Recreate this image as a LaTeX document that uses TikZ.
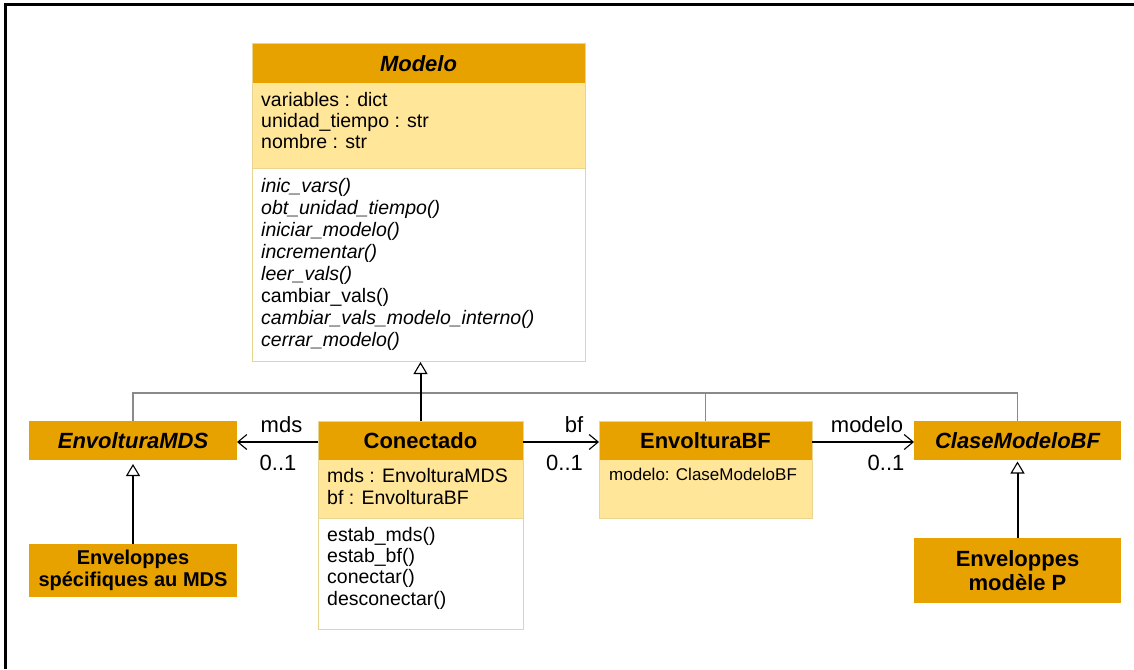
\documentclass[tikz,border=0pt]{standalone}
\usepackage{fontspec}
\setmainfont{Liberation Sans}
\usetikzlibrary{arrows.meta}
\definecolor{orng}{HTML}{E8A200}
\definecolor{lyel}{HTML}{FFE699}
\definecolor{tanb}{HTML}{EAD590}
\definecolor{grayl}{HTML}{8A8A8A}
\begin{document}
\begin{tikzpicture}[x=1pt,y=-1pt,
  part/.style={inner sep=0pt, outer sep=0pt, anchor=north west, draw=none},
  hdr/.style={part, fill=orng, font=\fontsize{22}{24}\selectfont\bfseries},
  attr/.style={part, fill=lyel},
  meth/.style={part, fill=white},
  frameb/.style={draw=tanb, line width=1pt},
  mem/.style={anchor=base west, inner sep=0pt, font=\fontsize{19.5}{22}\selectfont},
  memi/.style={mem, font=\fontsize{19.5}{22}\selectfont\itshape},
  lbl/.style={anchor=base, inner sep=0pt, font=\fontsize{22}{24}\selectfont},
  assoc/.style={draw=black, line width=1.1pt, -{Straight Barb[length=9pt,width=15pt,line width=1.1pt]}},
  inh/.style={draw=black, line width=2pt, -{Triangle[open,length=12pt,width=14pt,line width=1.1pt,fill=white]}},
  gen/.style={draw=grayl, line width=1.5pt}
]
\useasboundingbox (0,0) rectangle (1134,669);
\fill[white] (0,0) rectangle (1134,669);
\draw[line width=3pt] (5,669) -- (5,4.5) -- (1134,4.5);

% ---------- Modelo ----------
\node[hdr, minimum width=333pt, minimum height=39pt] (modH) at (252,44) {\itshape Modelo};
\node[attr, minimum width=333pt, minimum height=85pt] (modA) at (252,83) {};
\node[meth, minimum width=333pt, minimum height=193pt] (modM) at (252,168) {};
\draw[frameb] (modH.north west) rectangle (modM.south east);
\draw[frameb] (modA.south west) -- (modA.south east);
\node[mem] (ma1) at (261,106) {variables : dict};
\node[mem] (ma2) at (261,127) {unidad\_tiempo : str};
\node[mem] (ma3) at (261,148) {nombre : str};
\node[memi] (mm1) at (261,192) {inic\_vars()};
\node[memi] (mm2) at (261,214) {obt\_unidad\_tiempo()};
\node[memi] (mm3) at (261,236) {iniciar\_modelo()};
\node[memi] (mm4) at (261,258) {incrementar()};
\node[memi] (mm5) at (261,280) {leer\_vals()};
\node[mem]  (mm6) at (261,302) {cambiar\_vals()};
\node[memi] (mm7) at (261,324) {cambiar\_vals\_modelo\_interno()};
\node[memi] (mm8) at (261,346) {cerrar\_modelo()};

% ---------- EnvolturaMDS ----------
\node[hdr, minimum width=208pt, minimum height=39pt] (envmds) at (29,421) {\itshape EnvolturaMDS};

% ---------- Conectado ----------
\node[hdr, minimum width=205pt, minimum height=39pt] (conH) at (318,421) {Conectado};
\node[attr, minimum width=205pt, minimum height=58pt] (conA) at (318,460) {};
\node[meth, minimum width=205pt, minimum height=111pt] (conM) at (318,518) {};
\draw[frameb] (conH.north west) rectangle (conM.south east);
\draw[frameb] (conA.south west) -- (conA.south east);
\node[mem] (ca1) at (327,482.5) {mds : EnvolturaMDS};
\node[mem] (ca2) at (327,504) {bf : EnvolturaBF};
\node[mem] (cm1) at (327,541) {estab\_mds()};
\node[mem] (cm2) at (327,562) {estab\_bf()};
\node[mem] (cm3) at (327,583.5) {conectar()};
\node[mem] (cm4) at (327,605) {desconectar()};

% ---------- EnvolturaBF ----------
\node[hdr, minimum width=213pt, minimum height=39pt] (envbf) at (599,421) {EnvolturaBF};
\node[attr, minimum width=213pt, minimum height=58pt] (envbfA) at (599,460) {};
\draw[frameb] (envbf.north west) rectangle (envbfA.south east);
\node[mem, font=\fontsize{17}{20}\selectfont] (ba1) at (609,480) {modelo: ClaseModeloBF};

% ---------- ClaseModeloBF ----------
\node[hdr, minimum width=207pt, minimum height=39pt] (clase) at (914,421) {\itshape ClaseModeloBF};

% ---------- Enveloppes ----------
\node[hdr, minimum width=208pt, minimum height=53pt, align=center,
      font=\fontsize{20}{21.5}\selectfont\bfseries] (envsp) at (29,544) {Enveloppes\\spécifiques au MDS};
\node[hdr, minimum width=207pt, minimum height=65pt, align=center,
      font=\fontsize{22}{24}\selectfont\bfseries] (envp) at (914,538) {Enveloppes\\modèle P};

% ---------- generalisation lines ----------
\coordinate (junc) at (conH.north |- 0,393);
\draw[gen] (envmds.north) |- (junc);
\draw[gen] (clase.north) |- (junc);
\draw[gen] (envbf.north) -- (envbf.north |- junc);
\draw[inh] (conH.north) -- ([yshift=-1pt]conH.north |- modM.south);
\draw[inh] (envsp.north) -- ([yshift=-4pt]envmds.south);
\draw[inh] (envp.north) -- ([yshift=-1.5pt]clase.south);

% ---------- associations ----------
\draw[assoc] (conH.west |- 0,442) -- (envmds.east |- 0,442);
\draw[assoc] (conH.east |- 0,442) -- (envbf.west |- 0,442);
\draw[assoc] (envbf.east |- 0,442) -- (clase.west |- 0,442);
\node[lbl] (l1) at (281.5,432) {mds};
\node[lbl] (l2) at (278,470) {0..1};
\node[lbl] (l3) at (574,432) {bf};
\node[lbl] (l4) at (564.5,470) {0..1};
\node[lbl] (l5) at (867,432) {modelo};
\node[lbl] (l6) at (886,470) {0..1};
\end{tikzpicture}
\end{document}
